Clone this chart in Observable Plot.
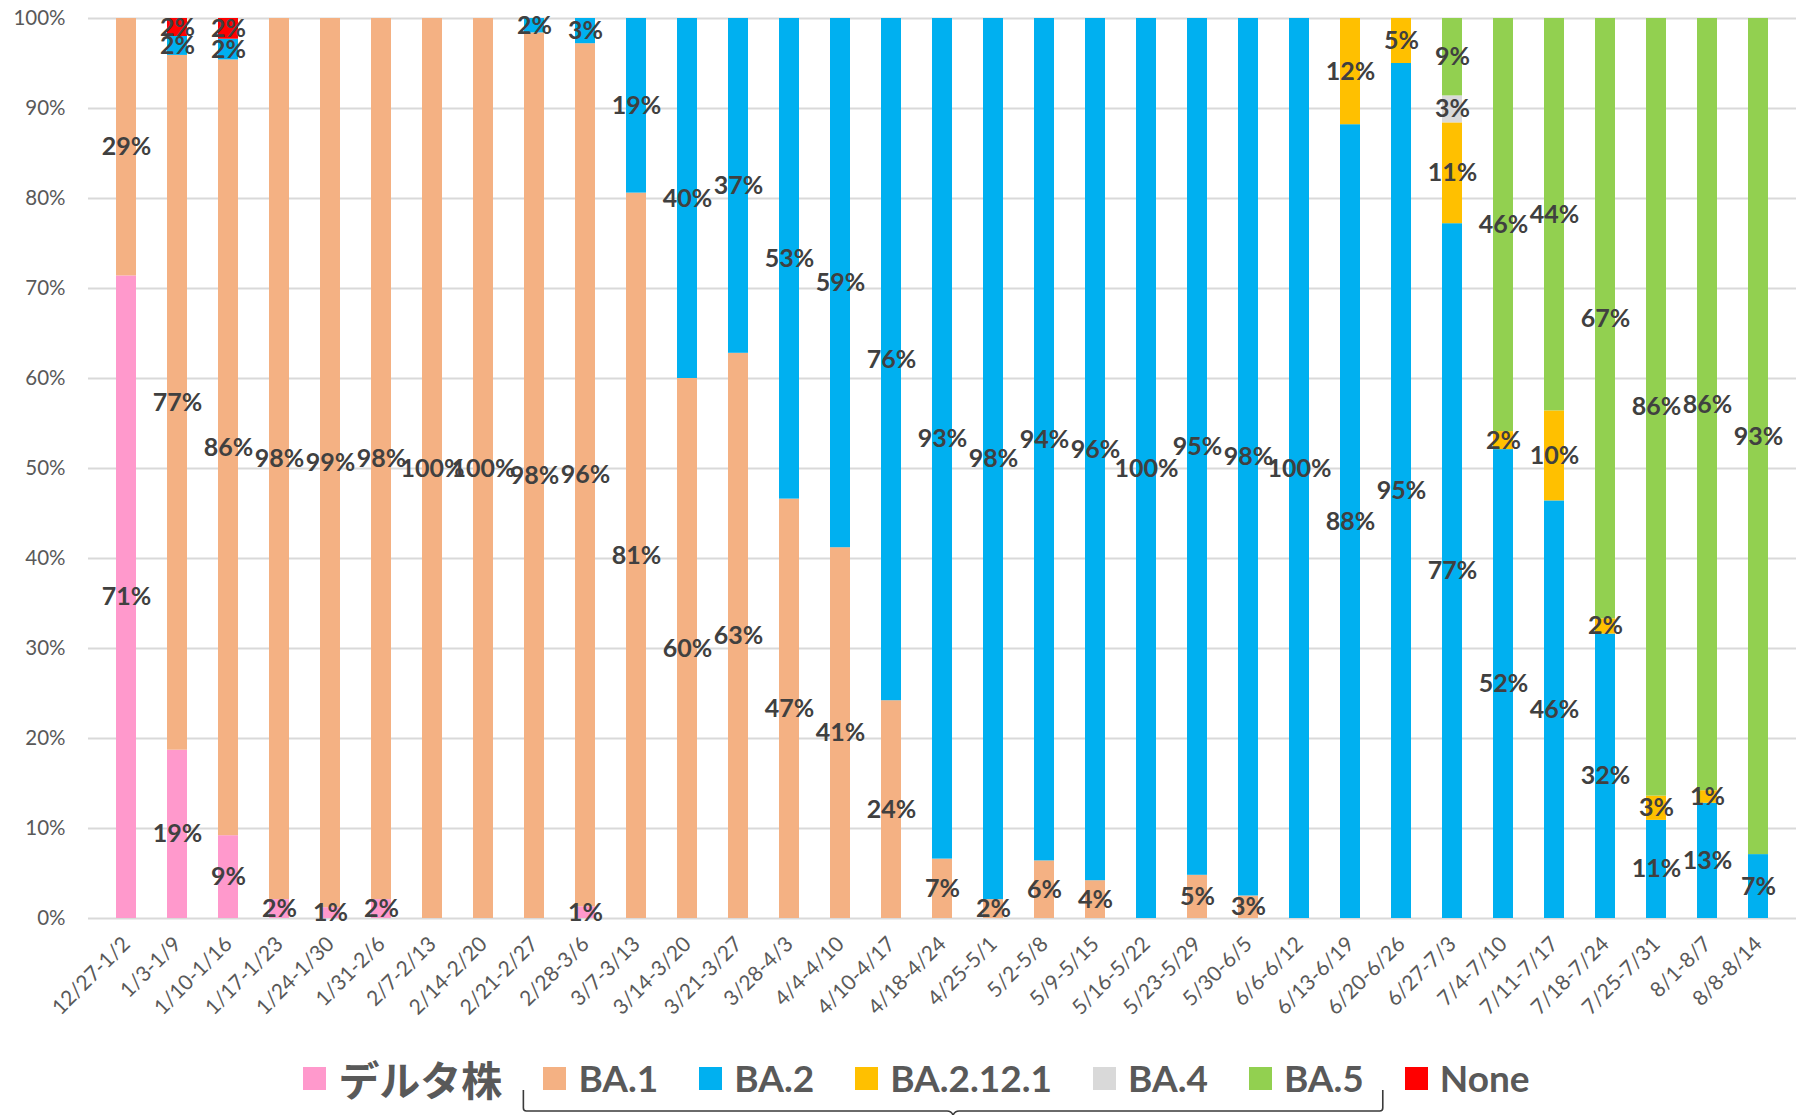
<!DOCTYPE html>
<html>
<head>
<meta charset="utf-8">
<script src="https://cdn.jsdelivr.net/npm/d3@7"></script>
<script src="https://cdn.jsdelivr.net/npm/@observablehq/plot@0.6"></script>
<style>
  html, body { margin: 0; padding: 0; background: #fff; }
  #wrap { position: relative; width: 1801px; height: 1115px; overflow: hidden; font-family: Lato, "Noto Sans CJK JP", sans-serif; }
  #legend { position: absolute; left: 32px; top: 1054px; width: 1769px; height: 48px; display: flex; justify-content: center; align-items: center; gap: 41px; }
  .item { display: flex; align-items: center; gap: 12px; font-weight: 700; font-size: 37px; color: #595959; line-height: 48px; white-space: nowrap; }
  .sw { width: 23px; height: 23px; display: inline-block; }
  .cjk { font-family: "Noto Sans CJK JP", sans-serif; font-size: 41px; font-weight: 700; }
  #bracket { position: absolute; left: 0; top: 0; pointer-events: none; }
</style>
</head>
<body>
<div id="wrap">
  <div id="chart"></div>
  <div id="legend"></div>
  <svg id="bracket" width="1801" height="1115"></svg>
</div>
<script>
const categories = ["12/27-1/2","1/3-1/9","1/10-1/16","1/17-1/23","1/24-1/30","1/31-2/6","2/7-2/13","2/14-2/20","2/21-2/27","2/28-3/6","3/7-3/13","3/14-3/20","3/21-3/27","3/28-4/3","4/4-4/10","4/10-4/17","4/18-4/24","4/25-5/1","5/2-5/8","5/9-5/15","5/16-5/22","5/23-5/29","5/30-6/5","6/6-6/12","6/13-6/19","6/20-6/26","6/27-7/3","7/4-7/10","7/11-7/17","7/18-7/24","7/25-7/31","8/1-8/7","8/8-8/14"];

const seriesNames  = ["デルタ株","BA.1","BA.2","BA.2.12.1","BA.4","BA.5","None"];
const seriesColors = ["#FF99CC","#F4B183","#00B0F0","#FFC000","#D9D9D9","#92D050","#FF0000"];

const delta   = [71.4,18.7,9.2,2.1,1.2,2.1,0,0,0,1.3,0,0,0,0,0,0,0,0,0,0,0,0,0,0,0,0,0,0,0,0,0,0,0];
const ba1     = [28.6,77.2,86.2,97.9,98.8,97.9,100,100,98.4,95.9,80.6,60.0,62.8,46.6,41.2,24.2,6.6,2.1,6.4,4.2,0,4.8,2.5,0,0,0,0,0,0,0,0,0,0];
const ba2     = [0,2.1,2.3,0,0,0,0,0,1.6,2.8,19.4,40.0,37.2,53.4,58.8,75.8,93.4,97.9,93.6,95.8,100,95.2,97.5,100,88.2,95.0,77.2,52.1,46.4,31.6,10.9,12.8,7.1];
const ba2121  = [0,0,0,0,0,0,0,0,0,0,0,0,0,0,0,0,0,0,0,0,0,0,0,0,11.8,5.0,11.2,2.0,10.0,1.7,2.7,1.4,0];
const ba4     = [0,0,0,0,0,0,0,0,0,0,0,0,0,0,0,0,0,0,0,0,0,0,0,0,0,0,3.0,0,0,0,0,0,0];
const ba5     = [0,0,0,0,0,0,0,0,0,0,0,0,0,0,0,0,0,0,0,0,0,0,0,0,0,0,8.6,45.9,43.6,66.7,86.4,85.8,92.9];
const none    = [0,2.0,2.3,0,0,0,0,0,0,0,0,0,0,0,0,0,0,0,0,0,0,0,0,0,0,0,0,0,0,0,0,0,0];

const yTicks = [0,10,20,30,40,50,60,70,80,90,100];

const seriesValues = [delta, ba1, ba2, ba2121, ba4, ba5, none];
const rows = [];
seriesNames.forEach((s, si) => {
  categories.forEach((c, ci) => {
    const v = seriesValues[si][ci];
    if (v > 0) rows.push({week: c, series: s, value: v});
  });
});

const chart = Plot.plot({
  width: 1801,
  height: 1050,
  marginLeft: 88,
  marginRight: 5,
  marginTop: 18,
  marginBottom: 132,
  style: {fontFamily: "Lato, 'Noto Sans CJK JP', sans-serif", color: "#595959", background: "#fff"},
  x: {domain: categories, paddingInner: 0.607, paddingOuter: 0.3035, label: null},
  y: {domain: [0, 100], label: null},
  color: {domain: seriesNames, range: seriesColors},
  marks: [
    Plot.ruleY(yTicks, {stroke: "#D9D9D9", strokeWidth: 2}),
    Plot.barY(rows, Plot.stackY({x: "week", y: "value", fill: "series", order: seriesNames})),
    Plot.text(rows, Plot.stackY({
      x: "week", y: "value", z: "series", order: seriesNames,
      text: d => Math.round(d.value) + "%",
      fill: "#404040", fontWeight: 700, fontSize: 25
    })),
    Plot.axisX({tickRotate: -45, tickSize: 0, tickPadding: 22, fontSize: 21, label: null}),
    Plot.axisY({ticks: yTicks, tickFormat: d => d + "%", tickSize: 0, tickPadding: 23, fontSize: 20.5, label: null})
  ]
});
document.getElementById("chart").appendChild(chart);

// Legend
const legend = document.getElementById("legend");
seriesNames.forEach((s, i) => {
  const it = document.createElement("div");
  it.className = "item";
  const sw = document.createElement("span");
  sw.className = "sw";
  sw.style.background = seriesColors[i];
  const tx = document.createElement("span");
  tx.textContent = s;
  if (i === 0) tx.className = "cjk";
  it.appendChild(sw); it.appendChild(tx);
  legend.appendChild(it);
});

// Bracket under BA.1 .. BA.5 legend entries
const items = legend.querySelectorAll(".item");
const wrapBox = document.getElementById("wrap").getBoundingClientRect();
const b1 = items[1].getBoundingClientRect();
const b5 = items[5].getBoundingClientRect();
const xl = b1.left - wrapBox.left - 20;
const xr = b5.right - wrapBox.left + 19;
const yTop = 1090, yLine = 1111, xm = (xl + xr) / 2;
const path = `M${xl},${yTop} L${xl},${yLine-3} Q${xl},${yLine} ${xl+3},${yLine} L${xm-6},${yLine} Q${xm-2},${yLine} ${xm},${yLine+4} Q${xm+2},${yLine} ${xm+6},${yLine} L${xr-3},${yLine} Q${xr},${yLine} ${xr},${yLine-3} L${xr},${yTop}`;
d3.select("#bracket").append("path")
  .attr("d", path).attr("fill", "none").attr("stroke", "#3a3a3a").attr("stroke-width", 1.6);
</script>
</body>
</html>
